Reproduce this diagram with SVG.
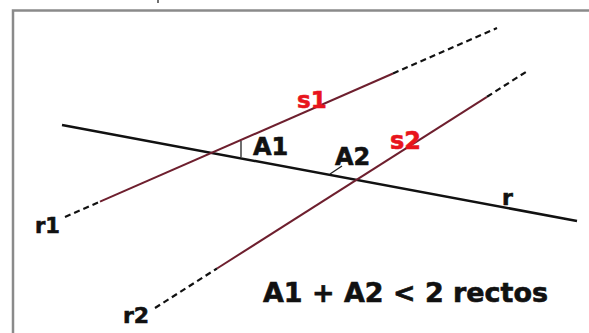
<svg xmlns="http://www.w3.org/2000/svg" width="589" height="333" viewBox="0 0 589 333">
<style>
.lbl{font-family:"DejaVu Sans","Verdana",sans-serif;font-weight:bold;fill:#111;stroke:#111;stroke-width:0.6}
.red{fill:#e8141c;stroke:#e8141c}
.solid{stroke:#6e1f2e;stroke-width:2;fill:none}
.dash{stroke:#111;stroke-width:2.2;stroke-dasharray:6 4;fill:none}
.tick{stroke:#222;stroke-width:1.3;fill:none}
</style>
<rect x="0" y="0" width="589" height="333" fill="#ffffff"/>
<path d="M13,340 V10.5 H600" fill="none" stroke="#8a8a8a" stroke-width="2.5"/>
<line x1="158" y1="0" x2="158" y2="3" stroke="#111" stroke-width="1.2"/>
<g id="connectors">
  <g id="line-r"><line x1="62" y1="125" x2="577" y2="221" stroke="#111" stroke-width="2.5"/></g>
  <g id="line-s1">
    <line class="dash" x1="65" y1="217" x2="100" y2="201.7"/>
    <line class="solid" x1="100" y1="201.7" x2="393" y2="73.5"/>
    <line class="dash" x1="393" y1="73.5" x2="497" y2="28"/>
  </g>
  <g id="line-s2">
    <line class="dash" x1="155" y1="308" x2="217" y2="268.5"/>
    <line class="solid" x1="217" y1="268.5" x2="487" y2="96.8"/>
    <line class="dash" x1="487" y1="96.8" x2="529" y2="70"/>
  </g>
  <line class="tick" x1="241" y1="141" x2="241" y2="157"/>
  <line class="tick" x1="330" y1="174" x2="342" y2="166"/>
</g>
<g id="labels">
  <text class="lbl red" x="297" y="108" font-size="23">s1</text>
  <text class="lbl red" x="390" y="149" font-size="24">s2</text>
  <text class="lbl" x="253" y="155" font-size="24">A1</text>
  <text class="lbl" x="335" y="165" font-size="24">A2</text>
  <text class="lbl" x="35" y="233" font-size="21">r1</text>
  <text class="lbl" x="123" y="323" font-size="22">r2</text>
  <text class="lbl" x="502" y="205" font-size="22">r</text>
  <text class="lbl" x="263" y="302" font-size="26" textLength="285" lengthAdjust="spacingAndGlyphs">A1 + A2 &lt; 2 rectos</text>
</g>
</svg>
